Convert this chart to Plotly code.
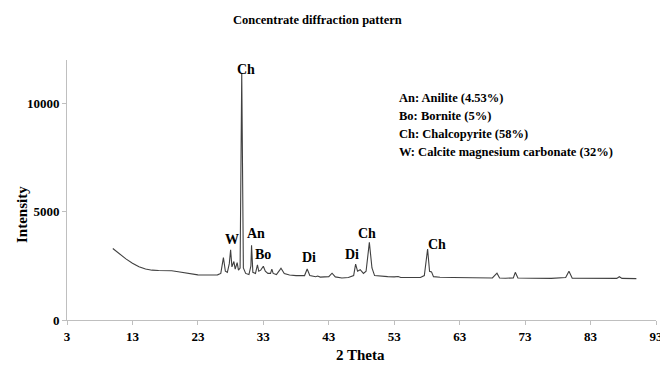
import plotly.graph_objects as go

two_theta = [10.0, 11.0, 12.0, 13.0, 14.0, 15.0, 16.0, 17.0, 18.0, 19.0, 20.0, 21.0, 22.0, 23.0, 24.0, 25.0, 26.0,
             26.5, 26.9, 27.2, 27.5, 27.8, 28.0, 28.2, 28.5, 28.7, 29.0, 29.2, 29.45, 29.7, 29.95, 30.3, 30.8,
             31.1, 31.2, 31.4, 31.8, 32.1, 32.3, 32.6, 33.0, 33.3, 33.7, 34.1, 34.3, 34.5, 35.0, 35.5, 35.7,
             36.2, 37.0, 38.0, 39.3, 39.7, 40.1, 41.0, 41.3, 41.7, 43.0, 43.5, 44.0, 45.0, 46.0, 46.8, 47.1,
             47.4, 47.8, 48.3, 48.7, 49.2, 49.6, 50.0, 51.0, 52.0, 53.0, 53.6, 54.0, 55.0, 56.0, 57.0, 57.6,
             58.1, 58.4, 58.7, 59.0, 60.0, 62.0, 65.0, 68.0, 68.7, 69.1, 70.0, 71.2, 71.5, 71.9, 74.0, 77.0,
             79.2, 79.7, 80.2, 84.0, 87.0, 87.4, 87.8, 90.0]
intensity = [3300, 3050, 2820, 2620, 2460, 2350, 2300, 2285, 2280, 2270, 2230, 2170, 2110, 2085, 2080, 2080, 2085,
             2150, 2880, 2250, 2200, 2600, 3240, 2450, 2700, 2350, 2650, 2300, 2400, 11400, 2400, 2150, 2100,
             2500, 3450, 2200, 2150, 2550, 2250, 2300, 2480, 2250, 2150, 2150, 2350, 2150, 2100, 2300, 2390,
             2150, 2080, 2050, 2050, 2350, 2050, 2000, 2030, 1980, 2000, 2160, 1990, 1940, 1960, 2050, 2580,
             2250, 2320, 2150, 2250, 3580, 2400, 2050, 2010, 2000, 1990, 2010, 1960, 1950, 1950, 1960, 2050,
             3270, 2250, 2220, 2000, 1970, 1960, 1950, 1940, 2160, 1940, 1930, 1940, 2200, 1940, 1930, 1920,
             1960, 2250, 1930, 1920, 1920, 2000, 1920, 1910]

peak_labels = ["Ch", "W", "An", "Bo", "Di", "Di", "Ch", "Ch"]
peak_label_x = [30.3, 28.2, 31.9, 33.0, 40.0, 46.6, 48.8, 59.5]
peak_label_y = [11570, 3700, 3980, 3010, 2870, 3010, 3980, 3470]

legend_lines = ["An: Anilite (4.53%)", "Bo: Bornite (5%)", "Ch: Chalcopyrite (58%)",
                "W: Calcite magnesium carbonate (32%)"]

x_ticks = [3, 13, 23, 33, 43, 53, 63, 73, 83, 93]
y_ticks = [0, 5000, 10000]

FONT = "Liberation Serif"

fig = go.Figure()
fig.add_trace(go.Scatter(x=two_theta, y=intensity, mode="lines",
                         line=dict(color="#404040", width=1.1), showlegend=False, hoverinfo="skip"))

ann = []
for t, x, y in zip(peak_labels, peak_label_x, peak_label_y):
    ann.append(dict(x=x, y=y, xref="x", yref="y", text="<b>%s</b>" % t, showarrow=False,
                    xanchor="center", yanchor="middle",
                    font=dict(family=FONT, size=14, color="black")))

W, H = 660, 366
L, R, T, B = 67, 4, 60, 46
pw, ph = W - L - R, H - T - B

def px(xp):
    return (xp - L) / pw

def py(yp):
    return (H - B - yp) / ph

for i, line in enumerate(legend_lines):
    ann.append(dict(x=px(397), y=py(98 + 18 * i), xref="paper", yref="paper", xanchor="left", yanchor="middle",
                    text="<b>%s</b>" % line, showarrow=False, font=dict(family=FONT, size=12.5, color="black")))

ann.append(dict(x=px(317), y=py(20), xref="paper", yref="paper", text="<b>Concentrate diffraction pattern</b>",
                xanchor="center", yanchor="middle",
                showarrow=False, font=dict(family=FONT, size=12.5, color="black")))
ann.append(dict(x=px(360), y=py(355), xref="paper", yref="paper", text="<b>2 Theta</b>",
                xanchor="center", yanchor="middle",
                showarrow=False, font=dict(family=FONT, size=15, color="black")))
ann.append(dict(x=px(22), y=py(215), xref="paper", yref="paper", text="<b>Intensity</b>", textangle=-90,
                xanchor="center", yanchor="middle",
                showarrow=False, font=dict(family=FONT, size=15, color="black")))

fig.update_layout(
    width=W, height=H, margin=dict(l=L, r=R, t=T, b=B, autoexpand=False),
    paper_bgcolor="white", plot_bgcolor="white",
    annotations=ann,
    xaxis=dict(range=[3, 93], tickvals=x_ticks, ticktext=["<b>%d</b>" % v for v in x_ticks],
               showgrid=False, zeroline=False, showline=True, linecolor="#bfbfbf", linewidth=1,
               ticks="outside", ticklen=4, tickcolor="#bfbfbf", ticklabeloverflow="allow",
               automargin=False,
               tickfont=dict(family=FONT, size=13, color="black"), fixedrange=True),
    yaxis=dict(range=[0, 12000], tickvals=y_ticks, ticktext=["<b>%d</b>" % v for v in y_ticks],
               showgrid=False, zeroline=False, showline=True, linecolor="#bfbfbf", linewidth=1,
               ticks="outside", ticklen=4, tickcolor="#bfbfbf", automargin=False,
               tickfont=dict(family=FONT, size=13, color="black"), fixedrange=True),
)
fig.write_html("out.html")
